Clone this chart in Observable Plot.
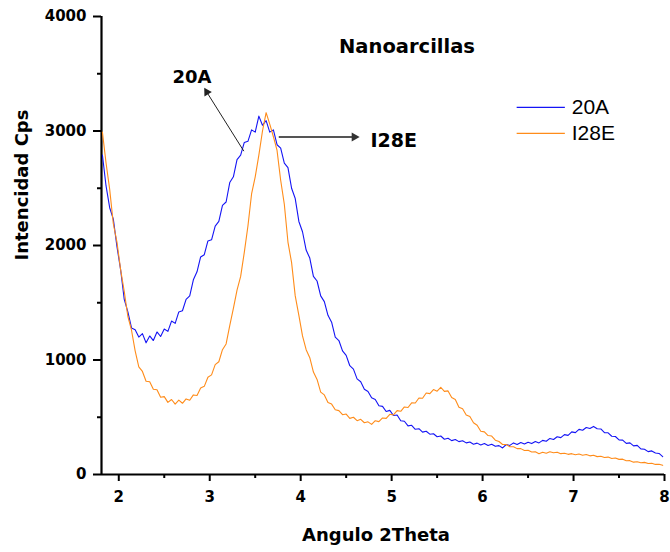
<!DOCTYPE html>
<html>
<head>
<meta charset="utf-8">
<script src="https://cdn.jsdelivr.net/npm/d3@7"></script>
<script src="https://cdn.jsdelivr.net/npm/@observablehq/plot@0.6"></script>
<style>
  html, body { margin: 0; padding: 0; background: #fff; }
  #chart { width: 670px; height: 552px; }
</style>
</head>
<body>
<div id="chart"></div>
<script>
// ---- data ----
const seriesNames = ["20A", "I28E"];
const seriesColors = ["#1414f5", "#ff8c1a"];
const thetaStart = 1.82;   // first 2θ sample
const thetaStep = 0.04;    // 2θ sampling step
const cps20A = [
  2790,2520,2330,2230,1990,1790,1530,1420,1280,1265,
  1200,1230,1150,1210,1170,1245,1205,1270,1250,1340,
  1320,1420,1430,1530,1560,1700,1770,1900,1920,2040,
  2050,2170,2210,2350,2380,2550,2600,2750,2790,2900,
  2910,3010,2990,3130,3050,3090,2990,3010,2880,2850,
  2720,2680,2500,2410,2210,2120,1960,1890,1730,1690,
  1560,1510,1390,1330,1200,1170,1080,1040,950,920,
  835,810,745,725,670,655,600,595,550,560,
  515,520,470,465,425,430,395,400,370,378,
  352,356,330,336,308,316,296,305,287,295,
  276,284,265,274,258,270,254,264,246,252,
  232,262,254,276,262,280,266,282,270,288,
  276,298,290,315,306,330,322,348,342,372,
  366,394,386,410,402,420,400,398,366,364,
  334,332,302,300,272,276,250,254,224,220,
  200,206,188,184,156
];
const cpsI28E = [
  2990,2720,2490,2190,2030,1790,1600,1380,1260,1080,
  940,900,815,810,745,740,675,680,630,655,
  615,650,622,660,648,695,690,755,770,850,
  870,960,985,1090,1140,1300,1450,1610,1730,1940,
  2170,2450,2600,2790,3000,3160,3060,2950,2830,2570,
  2360,2030,1850,1560,1390,1210,1090,1020,895,830,
  720,695,628,615,566,558,522,528,490,500,
  470,482,452,460,438,470,462,494,490,526,
  520,558,552,590,585,626,624,668,666,712,
  706,742,728,762,726,730,672,655,588,574,
  520,506,452,430,378,372,340,336,300,288,
  262,262,242,242,226,226,210,212,196,198,
  182,194,186,198,190,195,182,186,176,182,
  173,179,168,174,163,168,156,160,148,152,
  140,144,132,134,120,121,108,112,103,106,
  96,98,88,89,80
];
const xTicks = [2, 3, 4, 5, 6, 7, 8];
const xMinorTicks = [2.5, 3.5, 4.5, 5.5, 6.5, 7.5];
const yTicks = [0, 1000, 2000, 3000, 4000];
const yMinorTicks = [500, 1500, 2500, 3500];
const titleText = "Nanoarcillas";
const xLabel = "Angulo 2Theta";
const yLabel = "Intencidad Cps";

// ---- build tables ----
const toRows = (vals, name) => vals.map((v, i) => ({theta: thetaStart + i * thetaStep, cps: v, series: name}));
const rows20A = toRows(cps20A, seriesNames[0]);
const rowsI28E = toRows(cpsI28E, seriesNames[1]);

// annotation & legend layout (data units)
const xDomain = [1.81, 8];
const arrow20A = [{x1: 3.375, y1: 2824, x2: 2.975, y2: 3330, hx: 2.968, hy: 3340, rot: -31.5, label: "20A", lx: 2.59, ly: 3470}];
const arrowI28E = [{x1: 3.759, y1: 2948, x2: 4.58, y2: 2948, hx: 4.59, hy: 2948, rot: 90, label: "I28E", lx: 4.768, ly: 2910}];
const legendRows = [
  {name: seriesNames[0], color: seriesColors[0], y: 3207},
  {name: seriesNames[1], color: seriesColors[1], y: 2980}
];

const chart = Plot.plot({
  width: 670,
  height: 552,
  marginLeft: 101,
  marginRight: 6,
  marginTop: 16,
  marginBottom: 78,
  style: {fontFamily: "DejaVu Sans", fontWeight: "bold", fontSize: "15px", color: "#000", background: "#fff"},
  x: {domain: xDomain},
  y: {domain: [0, 4000]},
  marks: [
    Plot.axisX({ticks: xTicks, tickSize: 7, tickPadding: 10, strokeWidth: 2, label: null, tickFormat: d3.format("d")}),
    Plot.axisX({ticks: xMinorTicks, tickSize: 4, strokeWidth: 2, text: null, label: null}),
    Plot.axisY({ticks: yTicks, tickSize: 8, tickPadding: 7, strokeWidth: 2, label: null, tickFormat: d3.format("d")}),
    Plot.axisY({ticks: yMinorTicks, tickSize: 4, strokeWidth: 2, text: null, label: null}),
    Plot.ruleY([0], {strokeWidth: 2.2}),
    Plot.ruleX([xDomain[0]], {strokeWidth: 2.2}),
    Plot.lineY(rows20A, {x: "theta", y: "cps", stroke: seriesColors[0], strokeWidth: 1.1}),
    Plot.lineY(rowsI28E, {x: "theta", y: "cps", stroke: seriesColors[1], strokeWidth: 1.1}),
    Plot.link(arrow20A, {x1: "x1", y1: "y1", x2: "x2", y2: "y2", stroke: "#222", strokeWidth: 1}),
    Plot.dot(arrow20A, {x: "hx", y: "hy", symbol: "triangle", r: 3.2, fill: "#222", rotate: "rot"}),
    Plot.link(arrowI28E, {x1: "x1", y1: "y1", x2: "x2", y2: "y2", stroke: "#555", strokeWidth: 2}),
    Plot.dot(arrowI28E, {x: "hx", y: "hy", symbol: "triangle", r: 3.4, fill: "#333", rotate: "rot"}),
    Plot.text(arrow20A, {x: "lx", y: "ly", text: "label", textAnchor: "start", fontSize: 18, fontWeight: "bold"}),
    Plot.text(arrowI28E, {x: "lx", y: "ly", text: "label", textAnchor: "start", fontSize: 19, fontWeight: "bold"}),
    Plot.text([titleText], {frameAnchor: "top", dx: 24, dy: 30, fontSize: 19.5, fontWeight: "bold", lineAnchor: "middle", letterSpacing: "0.5px"}),
    Plot.text([yLabel], {frameAnchor: "left", dx: -79, dy: 15, rotate: -90, fontSize: 18, fontWeight: "bold", lineAnchor: "middle"}),
    Plot.text([xLabel], {frameAnchor: "bottom", dx: -7, dy: 61, fontSize: 18, fontWeight: "bold", lineAnchor: "middle"}),
    Plot.ruleY(legendRows, {y: "y", x1: 6.38, x2: 6.91, stroke: "color", strokeWidth: 1.3}),
    Plot.text(legendRows, {x: 6.98, y: "y", text: "name", textAnchor: "start", fontFamily: "Liberation Sans", fontWeight: "normal", fontSize: 21})
  ]
});
document.getElementById("chart").appendChild(chart);
</script>
</body>
</html>
